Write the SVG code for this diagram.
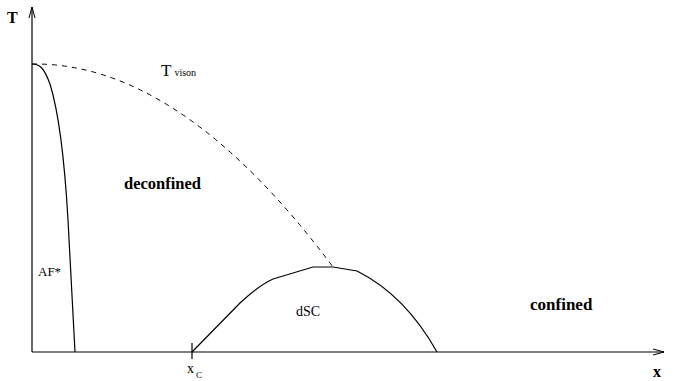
<svg xmlns="http://www.w3.org/2000/svg" width="675" height="381" viewBox="0 0 675 381">
<style>
.ax{stroke:#000;stroke-width:1.2;fill:none}
.cv{stroke:#000;stroke-width:1.2;fill:none}
.dash{stroke:#000;stroke-width:1;fill:none;stroke-dasharray:5,5}
text{fill:#000}
.b{font-weight:bold}
</style>
<defs>
<marker id="ar" markerWidth="12" markerHeight="8" refX="11" refY="4" orient="auto" markerUnits="userSpaceOnUse">
<path d="M0,1 L11,4 L0,7" fill="none" stroke="#000" stroke-width="1"/>
</marker>
</defs>
<g id="connectors">
<line class="ax" x1="32" y1="352" x2="32" y2="7" marker-end="url(#ar)"/>
<line class="ax" x1="32" y1="352" x2="664" y2="352" marker-end="url(#ar)"/>
<line class="ax" x1="192" y1="343" x2="192" y2="359"/>
<path class="cv" d="M32,64 C40,64 44,68 50,84 C58,110 64,150 68,220 L75,352"/>
<path class="dash" d="M32,64 Q180,62 333,267"/>
<path class="cv" d="M192,352 L240,303 Q258,286 273,279 L313,267 L333,267 L357,271 Q405,295 437,352"/>
</g>
<g id="labels" font-family="'Liberation Serif','Times New Roman',serif">
<text class="b" x="7" y="23" font-size="16">T</text>
<text class="b" x="653" y="377" font-size="16">x</text>
<text x="161" y="76" font-size="17">T<tspan font-size="10" dx="3">vison</tspan></text>
<text class="b" x="124" y="189" font-size="16.5">deconfined</text>
<text x="38" y="276" font-size="13">AF*</text>
<text x="296" y="316" font-size="14">dSC</text>
<text class="b" x="530" y="310" font-size="17">confined</text>
<text x="187" y="373" font-size="14">x<tspan font-size="9" dx="2" dy="5">C</tspan></text>
</g>
</svg>
